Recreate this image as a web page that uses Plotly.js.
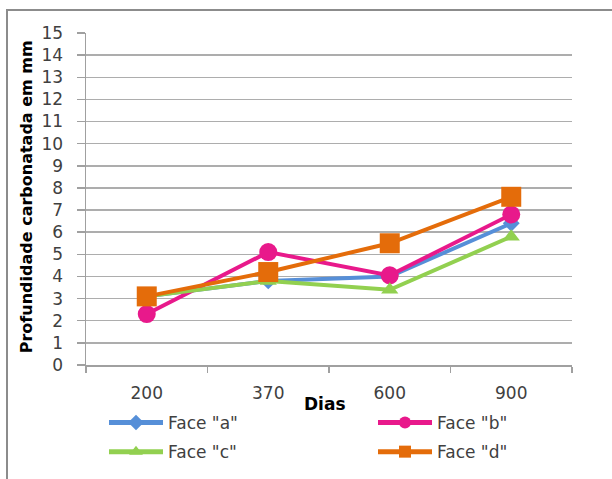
<!DOCTYPE html>
<html>
<head>
<meta charset="utf-8">
<script src="https://cdn.plot.ly/plotly-3.0.1.min.js"></script>
<style>
  html, body { margin: 0; padding: 0; background: #fff; }
  #wrap { position: relative; width: 612px; height: 479px; overflow: hidden; }
  #chart { position: absolute; left: 0; top: 0; width: 612px; height: 479px; }
  #frame { position: absolute; left: 6px; top: 9px; width: 620px; height: 480px;
           border-top: 2px solid #8c8c8c; border-left: 2px solid #8c8c8c; pointer-events: none; }
</style>
</head>
<body>
<div id="wrap">
  <div id="chart"></div>
  <div id="frame"></div>
</div>
<script>
const dias = ['200', '370', '600', '900'];
const faceA = [3.1, 3.8, 4.0, 6.4];
const faceB = [2.3, 5.1, 4.05, 6.8];
const faceC = [3.1, 3.8, 3.4, 5.8];
const faceD = [3.1, 4.2, 5.5, 7.6];
const yTicks = [0,1,2,3,4,5,6,7,8,9,10,11,12,13,14,15];
const xTitle = 'Dias';
const yTitle = 'Profundidade carbonatada em mm';

const FONT = 'DejaVu Sans, Verdana, sans-serif';
const TXT = '#404040';

function tr(name, y, color, symbol, size, legend, group) {
  return {
    type: 'scatter', mode: 'lines+markers', x: dias, y: y, name: name,
    line: { color: color, width: 4 },
    marker: { color: color, symbol: symbol, size: size },
    legend: legend, legendgroup: group
  };
}

const data = [
  tr('Face "a"', faceA, '#568fd8', 'diamond', 13, 'legend', 'a'),
  tr('Face "b"', faceB, '#e8198b', 'circle', 18, 'legend2', 'b'),
  tr('Face "c"', faceC, '#92d050', 'triangle-up', 15, 'legend', 'c'),
  tr('Face "d"', faceD, '#e46c0a', 'square', 20, 'legend2', 'd')
];

const legendCommon = {
  orientation: 'v', xref: 'container', yref: 'container',
  xanchor: 'left', yanchor: 'top', bgcolor: 'rgba(0,0,0,0)',
  font: { family: FONT, size: 17, color: TXT },
  itemwidth: 54, itemsizing: 'constant', traceorder: 'grouped', tracegroupgap: 4
};

const layout = {
  width: 612, height: 479,
  margin: { l: 86, r: 40, t: 33, b: 113.5, pad: 0, autoexpand: false },
  paper_bgcolor: '#ffffff', plot_bgcolor: '#ffffff',
  font: { family: FONT, size: 17, color: TXT },
  showlegend: true,
  legend: Object.assign({}, legendCommon, { x: 104/612, y: 1 - 405/479 }),
  legend2: Object.assign({}, legendCommon, { x: 373/612, y: 1 - 405/479 }),
  xaxis: {
    type: 'category', range: [-0.5, 3.5], tickvals: dias,
    showline: true, linecolor: '#a0a0a0', linewidth: 1.5,
    showgrid: false, zeroline: false, automargin: false, tickangle: 0,
    ticks: 'outside', tickson: 'boundaries', ticklen: 6, tickcolor: '#a0a0a0', tickwidth: 1.5,
    ticklabelstandoff: 12,
    tickfont: { family: FONT, size: 17, color: TXT }
  },
  yaxis: {
    range: [0, 15], tickvals: yTicks, ticktext: yTicks.map(String),
    showline: true, linecolor: '#a0a0a0', linewidth: 1.5, automargin: false,
    showgrid: true, gridcolor: '#adadad', gridwidth: 1.5, zeroline: false,
    ticks: 'outside', ticklen: 8, tickcolor: '#a0a0a0', tickwidth: 1.5,
    ticklabelstandoff: 10,
    tickfont: { family: FONT, size: 17, color: TXT }
  },
  annotations: [
    { text: '<b>' + xTitle + '</b>', xref: 'paper', yref: 'paper',
      x: (325 - 86) / 486, y: (365.5 - 405) / 332.5, xanchor: 'center', yanchor: 'middle',
      showarrow: false, font: { family: FONT, size: 17, color: '#000' } },
    { text: '<b>' + yTitle + '</b>', xref: 'paper', yref: 'paper', textangle: -90,
      x: (26 - 86) / 486, y: (365.5 - 197.5) / 332.5, xanchor: 'center', yanchor: 'middle',
      showarrow: false, font: { family: FONT, size: 16, color: '#000' } }
  ]
};

Plotly.newPlot('chart', data, layout, { displayModeBar: false, staticPlot: true });
</script>
</body>
</html>
